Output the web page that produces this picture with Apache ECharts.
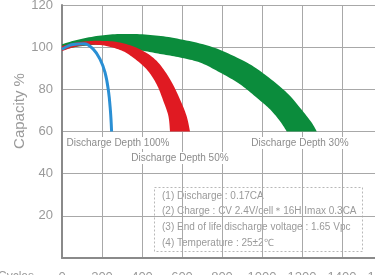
<!DOCTYPE html>
<html>
<head>
<meta charset="utf-8">
<script src="https://cdn.jsdelivr.net/npm/echarts@6/dist/echarts.min.js"></script>
<style>
html, body { margin: 0; padding: 0; background: #fff; }
#chart { width: 375px; height: 275px; }
</style>
</head>
<body>
<div id="chart"></div>
<script>
// axis ticks
const xTicks = [0, 200, 400, 600, 800, 1000, 1200, 1400, 1600]
const yTicks = [0, 20, 40, 60, 80, 100, 120]

// discharge depth 100% (thin line)
const depth100 = [[0, 99], [55, 101.3], [110, 101.6], [155, 99.2], [190, 94.3], [215, 88], [232, 79.5], [242, 70], [248, 60]]

// discharge depth 50% band (upper / lower edge)
const depth50Upper = [[0, 100.6], [90, 102.5], [190, 103], [290, 102.2], [390, 99], [473, 93.5], [540, 84.8], [590, 75.2], [623, 67.3], [640, 60]]
const depth50Lower = [[0, 98.2], [90, 100.6], [190, 101], [290, 98.7], [355, 95.1], [423, 89.5], [473, 82.4], [507, 74.4], [532, 67.3], [540, 60]]

// discharge depth 30% band (upper / lower edge)
const depth30Upper = [[0, 101.4], [90, 103.8], [207, 105.7], [324, 106.3], [455, 105.7], [590, 103.8], [757, 99.9], [924, 92.7], [1024, 86.3], [1124, 78.4], [1190, 71.3], [1249, 64.1], [1274, 60]]
const depth30Lower = [[0, 99], [190, 101.2], [390, 98.5], [490, 96.8], [590, 95.1], [690, 92.7], [790, 88], [890, 82.4], [974, 76], [1040, 70.5], [1090, 64.9], [1124, 60]]

const notes = [
  '(1) Discharge : 0.17CA',
  '(2) Charge : CV 2.4V/cell\uFF0A16H Imax 0.3CA',
  '(3) End of life discharge voltage : 1.65 Vpc',
  '(4) Temperature : 25\u00B12\u2103',
]

const gray = '#9a9a9a'
const font = 'Liberation Sans, Arial, sans-serif'

// catmull-rom through pixel points, just for drawing smooth edges
function smoothPts(pts) {
  const out = []
  const n = pts.length
  for (let i = 0; i < n - 1; i++) {
    const p0 = pts[Math.max(i - 1, 0)]
    const p1 = pts[i]
    const p2 = pts[i + 1]
    const p3 = pts[Math.min(i + 2, n - 1)]
    for (let s = 0; s < 10; s++) {
      const t = s / 10
      const t2 = t * t
      const t3 = t2 * t
      out.push([0, 1].map(k => 0.5 * (2 * p1[k] + (-p0[k] + p2[k]) * t + (2 * p0[k] - 5 * p1[k] + 4 * p2[k] - p3[k]) * t2 + (-p0[k] + 3 * p1[k] - 3 * p2[k] + p3[k]) * t3)))
    }
  }
  out.push(pts[n - 1])
  return out
}

function band(name, upper, lower, color) {
  return {
    name: name,
    type: 'custom',
    data: upper,
    encode: { x: 0, y: 1 },
    renderItem: (params, api) => {
      if (params.dataIndex !== 0) return null
      const top = smoothPts(upper.map(p => api.coord(p)))
      const bot = smoothPts(lower.map(p => api.coord(p))).reverse()
      return {
        type: 'polygon',
        shape: { points: top.concat(bot) },
        style: { fill: color },
      }
    },
  }
}

function curveLabel(text, x, y) {
  return {
    type: 'text',
    x: x,
    y: y,
    z: 5,
    style: {
      text: text,
      fill: '#8c8c8c',
      fontSize: 10,
      fontFamily: font,
      align: 'center',
      verticalAlign: 'middle',
      backgroundColor: '#fff',
      padding: [1, 2],
    },
  }
}

const chart = echarts.init(document.getElementById('chart'))

const option = {
  animation: false,
  grid: { left: 62, top: 5, right: -7, bottom: 17, outerBoundsMode: 'none', containLabel: false },
  xAxis: {
    type: 'value',
    min: xTicks[0],
    max: xTicks[xTicks.length - 1],
    interval: xTicks[1] - xTicks[0],
    name: 'Cycles',
    nameLocation: 'start',
    nameGap: 28,
    nameTextStyle: { color: gray, fontSize: 12, fontFamily: font, verticalAlign: 'top', padding: [13, 0, 0, 0] },
    axisLine: { show: true, lineStyle: { color: '#8a8a8a', width: 2 } },
    axisTick: { show: false },
    axisLabel: { color: gray, fontSize: 13, fontFamily: font, margin: 13, formatter: v => String(v), hideOverlap: false },
    splitLine: { show: true, lineStyle: { color: '#a8a8a8', width: 1 } },
  },
  yAxis: {
    type: 'value',
    min: yTicks[0],
    max: yTicks[yTicks.length - 1],
    interval: yTicks[1] - yTicks[0],
    axisLine: { show: true, lineStyle: { color: '#8a8a8a', width: 2 } },
    axisTick: { show: false },
    axisLabel: {
      color: gray,
      fontSize: 13,
      fontFamily: font,
      margin: 9,
      formatter: v => (v === 0 ? '' : String(v)),
    },
    splitLine: { show: true, lineStyle: { color: '#a8a8a8', width: 1 } },
  },
  graphic: [
    {
      type: 'text',
      x: 20,
      y: 111,
      rotation: Math.PI / 2,
      style: {
        text: 'Capacity %',
        fill: gray,
        fontSize: 15,
        fontFamily: font,
        align: 'center',
        verticalAlign: 'middle',
      },
    },
    curveLabel('Discharge Depth 100%', 118, 143),
    curveLabel('Discharge Depth 50%', 180, 158),
    curveLabel('Discharge Depth 30%', 300, 143),
    {
      type: 'group',
      x: 154,
      y: 187,
      z: 5,
      children: [
        {
          type: 'rect',
          shape: { x: 0.5, y: 0.5, width: 208, height: 64 },
          style: { fill: '#fff', stroke: '#b8b8b8', lineWidth: 1, lineDash: [2, 2] },
        },
      ].concat(notes.map((t, i) => ({
        type: 'text',
        x: 8,
        y: 9 + i * 15.7,
        style: { text: t, fill: gray, fontSize: 10, fontFamily: font, verticalAlign: 'middle' },
      }))),
    },
  ],
  series: [
    band('Discharge Depth 30%', depth30Upper, depth30Lower, '#0b8c3c'),
    band('Discharge Depth 50%', depth50Upper, depth50Lower, '#e01a22'),
    {
      name: 'Discharge Depth 100%',
      type: 'line',
      data: depth100,
      smooth: 0.4,
      symbol: 'none',
      lineStyle: { color: '#2a8fd4', width: 3 },
    },
  ],
}

option && chart.setOption(option)
</script>
</body>
</html>
